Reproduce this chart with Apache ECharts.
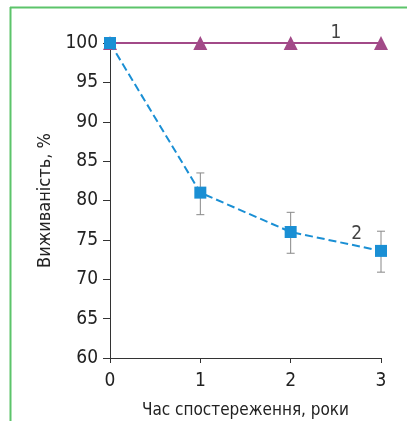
<!DOCTYPE html>
<html><head><meta charset="utf-8">
<script src="https://cdn.jsdelivr.net/npm/echarts@6/dist/echarts.min.js"></script>
<style>html,body{margin:0;padding:0;background:#fff}#c{width:407px;height:421px}</style>
</head><body><div id="c"></div>
<script>
const years = [0, 1, 2, 3];
const series1 = [100, 100, 100, 100];
const series2 = [100, 81, 76, 73.6];
const errLow2 = [null, 78.2, 73.3, 70.9];
const errHigh2 = [null, 83.5, 78.5, 76.1];
const yTicks = [60, 65, 70, 75, 80, 85, 90, 95, 100];
const label1 = {x: 2.5, y: 101.3, text: '1'};
const label2 = {x: 2.73, y: 75.8, text: '2'};

const FONT = '"DejaVu Sans Condensed", "Liberation Sans Narrow", sans-serif';
const chart = echarts.init(document.getElementById('c'));
const errData = years.map((x, i) => [x, errLow2[i], errHigh2[i]]).filter(d => d[1] != null);
chart.setOption({
  animation: false,
  graphic: [
    {type: 'line', shape: {x1: 10, y1: 7.5, x2: 407, y2: 7.5}, style: {stroke: '#5cc46a', lineWidth: 2}},
    {type: 'line', shape: {x1: 10.5, y1: 7, x2: 10.5, y2: 421}, style: {stroke: '#5cc46a', lineWidth: 2}}
  ],
  grid: {left: 110, right: 26, top: 43, bottom: 63, containLabel: false, outerBoundsMode: 'none'},
  xAxis: {
    type: 'value', min: 0, max: 3, interval: 1,
    name: 'Час спостереження, роки', nameLocation: 'middle', nameGap: 44,
    nameTextStyle: {fontFamily: FONT, fontSize: 17, color: '#222'},
    axisLine: {lineStyle: {color: '#333', width: 1}},
    axisTick: {length: 5, lineStyle: {color: '#333'}},
    axisLabel: {fontFamily: FONT, fontSize: 19, color: '#222', margin: 14},
    splitLine: {show: false}
  },
  yAxis: {
    type: 'value', min: 60, max: 100, interval: 5,
    name: 'Виживаність, %', nameLocation: 'middle', nameGap: 54,
    nameTextStyle: {fontFamily: FONT, fontSize: 18, color: '#222'},
    axisLine: {show: true, lineStyle: {color: '#333', width: 1}},
    axisTick: {show: true, length: 7, lineStyle: {color: '#333'}},
    axisLabel: {fontFamily: FONT, fontSize: 19, color: '#222', margin: 12,
      formatter: v => yTicks.includes(v) ? String(v) : ''},
    splitLine: {show: false}
  },
  series: [
    {
      type: 'custom',
      renderItem: (params, api) => {
        const x = api.value(0);
        const lo = api.coord([x, api.value(1)]);
        const hi = api.coord([x, api.value(2)]);
        const w = 4;
        const st = {stroke: '#888', lineWidth: 1};
        return {type: 'group', children: [
          {type: 'line', shape: {x1: lo[0], y1: lo[1], x2: hi[0], y2: hi[1]}, style: st},
          {type: 'line', shape: {x1: lo[0]-w, y1: lo[1], x2: lo[0]+w, y2: lo[1]}, style: st},
          {type: 'line', shape: {x1: hi[0]-w, y1: hi[1], x2: hi[0]+w, y2: hi[1]}, style: st}
        ]};
      },
      data: errData, z: 1
    },
    {
      type: 'line', data: years.map((x, i) => [x, series1[i]]),
      symbol: 'triangle', symbolSize: 14,
      lineStyle: {color: '#a24a88', width: 2},
      itemStyle: {color: '#a24a88'}, z: 2
    },
    {
      type: 'line', data: years.map((x, i) => [x, series2[i]]),
      symbol: 'rect', symbolSize: 12,
      lineStyle: {color: '#1a8fd4', width: 2, type: [8, 4]},
      itemStyle: {color: '#1a8fd4'}, z: 3
    },
    {
      type: 'scatter', symbolSize: 0, silent: true, clip: false,
      itemStyle: {color: 'transparent'},
      data: [[label1.x, label1.y, label1.text], [label2.x, label2.y, label2.text]],
      label: {show: true, position: 'inside', formatter: p => p.value[2],
        fontFamily: FONT, fontSize: 19, color: '#111', textBorderWidth: 0}
    }
  ]
});
</script></body></html>
